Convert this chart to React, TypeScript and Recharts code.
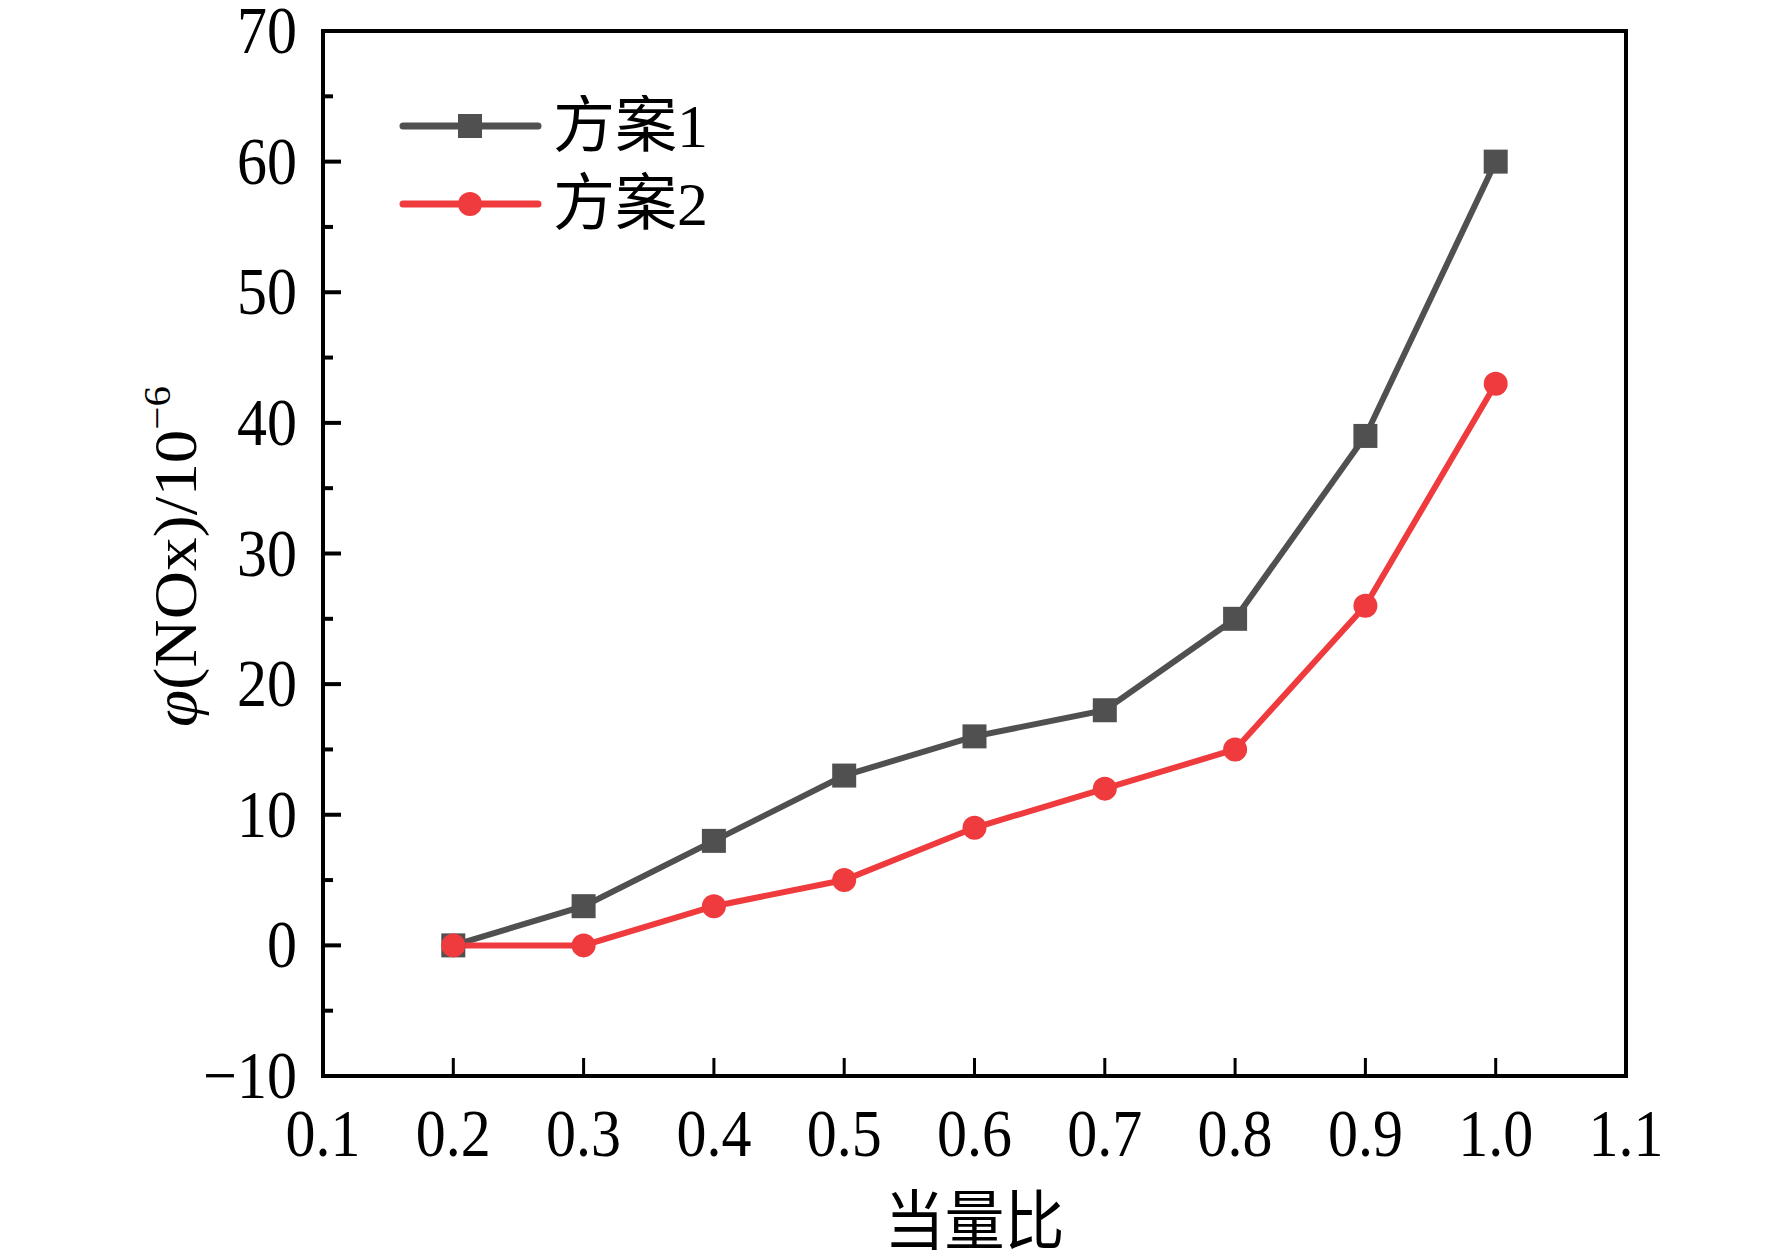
import { Legend, Line, LineChart, ReferenceArea, XAxis, YAxis } from "recharts";

const ratios = [0.2, 0.3, 0.4, 0.5, 0.6, 0.7, 0.8, 0.9, 1.0];
const plan1 = [0, 3, 8, 13, 16, 18, 25, 39, 60];
const plan2 = [0, 0, 3, 5, 9, 12, 15, 26, 43];
const xTicks = [0.1, 0.2, 0.3, 0.4, 0.5, 0.6, 0.7, 0.8, 0.9, 1.0, 1.1];
const yTicks = [-10, -5, 0, 5, 10, 15, 20, 25, 30, 35, 40, 45, 50, 55, 60, 65, 70];
const seriesNames = ["方案1", "方案2"];

const data = ratios.map((r, i) => ({ ratio: r, plan1: plan1[i], plan2: plan2[i] }));

const GRAY = "#505050";
const RED = "#ef3b3e";
const SERIF = "'Liberation Serif', 'Times New Roman', serif";
const CJK = "'Liberation Serif', 'Noto Sans CJK SC', serif";

const XTick = ({ x, y, payload }: any) => (
  <g>
    <line x1={x} x2={x} y1={y} y2={y - 18} stroke="#000" strokeWidth={3} />
    <text
      transform={`translate(${x}, ${y + 80}) scale(1, 1.12)`}
      textAnchor="middle"
      fontSize={60}
      fontFamily={SERIF}
      fill="#000"
    >
      {payload.value.toFixed(1)}
    </text>
  </g>
);

const YTick = ({ x, y, payload }: any) => {
  const major = payload.value % 10 === 0;
  const label = payload.value < 0 ? `\u2212${Math.abs(payload.value)}` : `${payload.value}`;
  return (
    <g>
      <line x1={x} x2={x + (major ? 18 : 10)} y1={y} y2={y} stroke="#000" strokeWidth={4} />
      {major && (
        <text
          transform={`translate(${x - 26}, ${y + 22}) scale(1, 1.12)`}
          textAnchor="end"
          fontSize={60}
          fontFamily={SERIF}
          fill="#000"
        >
          {label}
        </text>
      )}
    </g>
  );
};

const XTitle = ({ viewBox }: any) => (
  <text
    transform={`translate(${viewBox.x + viewBox.width / 2}, 1244) scale(1, 1.08)`}
    textAnchor="middle"
    fontSize={60}
    fontFamily={CJK}
    fill="#000"
  >
    当量比
  </text>
);

const YTitle = ({ viewBox }: any) => {
  const cy = viewBox.y + viewBox.height / 2 + 3;
  return (
    <text
      transform={`translate(196, ${cy}) rotate(-90) scale(1.08, 1)`}
      textAnchor="middle"
      fontSize={62}
      fontFamily={SERIF}
      fill="#000"
    >
      <tspan fontStyle="italic">φ</tspan>
      <tspan>(NOx)/10</tspan>
      <tspan fontSize={38} dy={-26}>−6</tspan>
    </text>
  );
};

const Square = ({ cx, cy, key }: any) => (
  <rect key={key} x={cx - 12} y={cy - 12} width={24} height={24} fill={GRAY} />
);

const LegendBox = ({ payload }: any) => (
  <svg width={400} height={200}>
    {(payload || []).map((entry: any, i: number) => {
      const y = 31 + i * 78;
      return (
        <g key={entry.value}>
          <line x1={13} x2={148} y1={y} y2={y} stroke={entry.color} strokeWidth={7} strokeLinecap="round" />
          {entry.dataKey === "plan1" ? (
            <rect x={68} y={y - 12} width={24} height={24} fill={entry.color} />
          ) : (
            <circle cx={80} cy={y} r={12} fill={entry.color} />
          )}
          <text x={163} y={y + 21} fontSize={62} fontFamily={CJK} fill="#000">
            {entry.value}
          </text>
        </g>
      );
    })}
  </svg>
);

export default function App() {
  return (
    <div style={{ width: 1772, height: 1260, background: "#fff" }}>
      <style>{`body{margin:0}`}</style>
      <LineChart
        width={1772}
        height={1260}
        data={data}
        margin={{ top: 31, right: 146, bottom: 84, left: 223 }}
      >
        <XAxis
          dataKey="ratio"
          type="number"
          domain={[0.1, 1.1]}
          ticks={xTicks}
          interval={0}
          height={100}
          tickSize={0}
          tickMargin={0}
          tickLine={false}
          axisLine={false}
          tick={<XTick />}
          label={{ content: XTitle }}
        />
        <YAxis
          type="number"
          domain={[-10, 70]}
          ticks={yTicks}
          interval={0}
          width={100}
          tickSize={0}
          tickMargin={0}
          tickLine={false}
          axisLine={false}
          tick={<YTick />}
          label={{ content: YTitle }}
        />
        <ReferenceArea
          x1={0.1}
          x2={1.1}
          y1={-10}
          y2={70}
          fill="none"
          stroke="#000"
          strokeWidth={4}
        />
        <Legend
          layout="vertical"
          align="center"
          verticalAlign="middle"
          content={<LegendBox />}
          wrapperStyle={{ left: 390, top: 95, width: 400, height: 200 }}
        />
        <Line
          dataKey="plan1"
          name={seriesNames[0]}
          stroke={GRAY}
          strokeWidth={6}
          dot={Square}
          activeDot={false}
          isAnimationActive={false}
        />
        <Line
          dataKey="plan2"
          name={seriesNames[1]}
          stroke={RED}
          strokeWidth={6}
          dot={{ r: 12, fill: RED, stroke: "none" }}
          activeDot={false}
          isAnimationActive={false}
        />
      </LineChart>
    </div>
  );
}
